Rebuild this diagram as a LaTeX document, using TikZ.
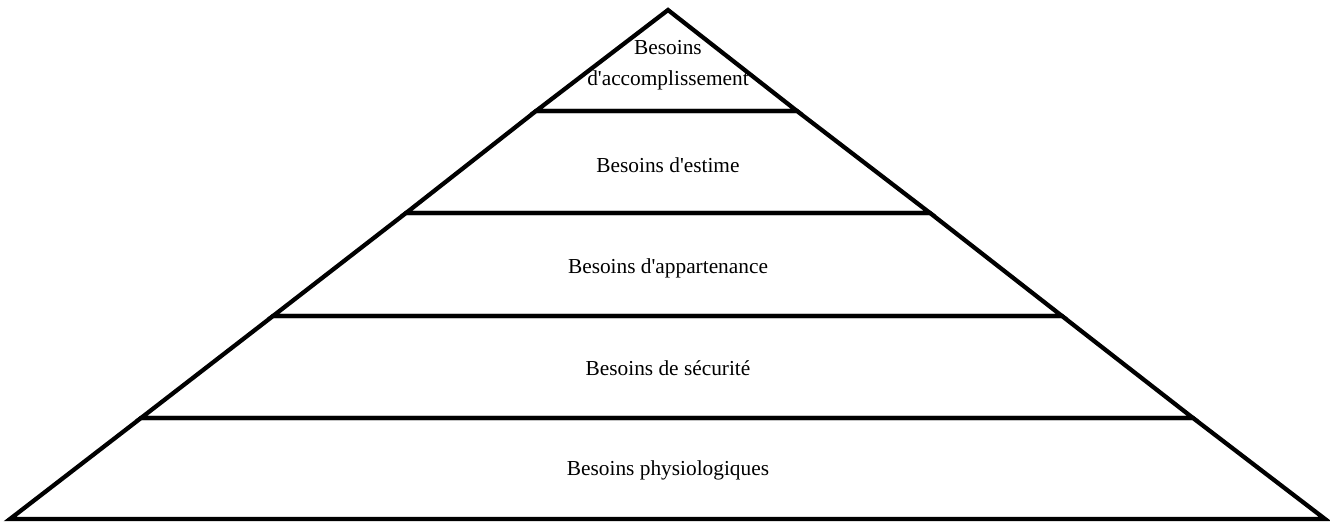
\documentclass[tikz,border=0pt]{standalone}
\usepackage{fontspec}
\setmainfont{Liberation Serif}[Ligatures=TeXOff]

\tikzset{
  niveau/.style={draw, line width=3.2pt, line join=miter},
  etiquette/.style={font=\fontsize{16}{23}\selectfont, align=center, inner sep=0pt}
}

\begin{document}
\begin{tikzpicture}[x=0.75pt,y=-0.75pt]
      \useasboundingbox (0,0) rectangle (1330,522);
      % sommet et paliers de la pyramide
      \coordinate (sommet) at (668,10);
      \coordinate (g1) at (536,111);  \coordinate (d1) at (797,111);
      \coordinate (g2) at (406,213);  \coordinate (d2) at (930,213);
      \coordinate (g3) at (273,316);  \coordinate (d3) at (1062,316);
      \coordinate (g4) at (141,418);  \coordinate (d4) at (1193,418);
      \coordinate (g5) at (10,519);   \coordinate (d5) at (1325,519);
      \draw [niveau] (sommet) -- (d1) -- (g1) -- cycle;
      \draw [niveau] (g1) -- (d1) -- (d2) -- (g2) -- cycle;
      \draw [niveau] (g2) -- (d2) -- (d3) -- (g3) -- cycle;
      \draw [niveau] (g3) -- (d3) -- (d4) -- (g4) -- cycle;
      \draw [niveau] (g4) -- (d4) -- (d5) -- (g5) -- cycle;
      \node [etiquette] (accomplissement) at (668,65) {Besoins\\d'accomplissement};
      \node [etiquette] (estime) at (668,165) {Besoins d'estime};
      \node [etiquette] (appartenance) at (668,268) {Besoins d'appartenance};
      \node [etiquette] (securite) at (668,368) {Besoins de sécurité};
      \node [etiquette] (physiologiques) at (668,470) {Besoins physiologiques};
    \end{tikzpicture}
\end{document}
